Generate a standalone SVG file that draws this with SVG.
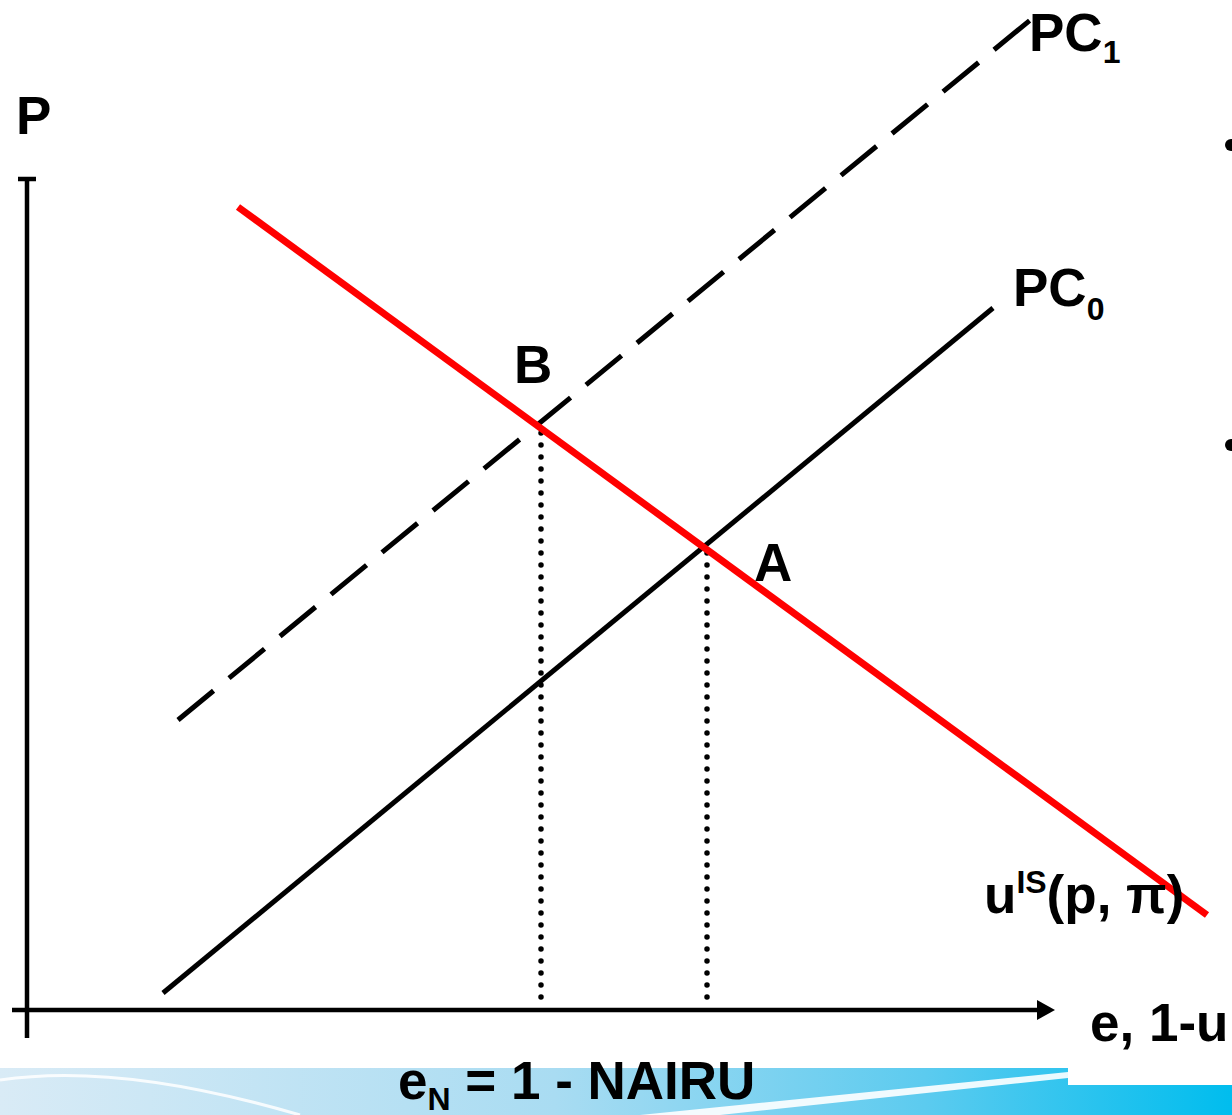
<svg xmlns="http://www.w3.org/2000/svg" width="1232" height="1115" viewBox="0 0 1232 1115">
<defs>
<style>
.t{font-family:"Liberation Sans",Arial,sans-serif;font-weight:bold;fill:#000}
.big{font-size:53px}
.sub{font-size:32px}
.ax{stroke:#000;stroke-width:4.5;fill:none}
.pc{stroke:#000;stroke-width:5;fill:none}
.dot{stroke:#000;stroke-width:5.5;stroke-linecap:round;stroke-dasharray:0 12;fill:none}
</style>
<linearGradient id="band" x1="0" y1="0" x2="1" y2="0">
<stop offset="0" stop-color="#d9ebf6"/>
<stop offset="0.45" stop-color="#a9dcf2"/>
<stop offset="0.75" stop-color="#5ccbef"/>
<stop offset="1" stop-color="#00bdee"/>
</linearGradient>
</defs>
<rect width="1232" height="1115" fill="#fff"/>
<g id="background-band">
<rect x="0" y="1068" width="1232" height="47" fill="url(#band)"/>
<path d="M0,1080 Q120,1062 300,1115" stroke="#fff" stroke-width="3" fill="none" opacity="0.85"/>
<path d="M640,1115 L1068,1072 L1068,1078 L720,1115 Z" fill="#fff" opacity="0.9"/>
<rect x="1068" y="1060" width="164" height="25" fill="#fff"/>
</g>
<g id="connectors">
<line id="y-axis" class="ax" x1="27" y1="178" x2="27" y2="1038"/>
<line class="ax" x1="18" y1="179" x2="36" y2="179" stroke-width="3"/>
<line id="x-axis" class="ax" x1="12" y1="1010" x2="1040" y2="1010"/>
<polygon points="1037,1000 1055,1010 1037,1020" fill="#000"/>
<line id="pc0" class="pc" x1="163" y1="993" x2="993" y2="308"/>
<line id="pc1" class="pc" x1="178" y1="720" x2="1040" y2="12" stroke-dasharray="46 20"/>
<line id="drop-b" class="dot" x1="541" y1="433" x2="541" y2="1003"/>
<line id="drop-a" class="dot" x1="707" y1="553" x2="707" y2="1003"/>
<line id="uis" x1="238" y1="207" x2="1207" y2="915" stroke="#f00" stroke-width="7"/>
</g>
<g id="label-p"><text class="t big" x="16" y="134">P</text></g>
<g id="label-pc1"><text class="t big" x="1029" y="51">PC<tspan class="sub" y="63">1</tspan></text></g>
<g id="label-pc0"><text class="t big" x="1013" y="306">PC<tspan class="sub" y="320">0</tspan></text></g>
<g id="label-b"><text class="t big" x="514" y="383">B</text></g>
<g id="label-a"><text class="t big" x="754" y="581">A</text></g>
<g id="label-uis"><text class="t big" x="984" y="913">u<tspan class="sub" y="893">IS</tspan><tspan y="913">(p, π)</tspan></text></g>
<g id="label-x"><text class="t big" x="1090" y="1041">e, 1-u</text></g>
<g id="label-en"><text class="t big" x="398" y="1099">e<tspan class="sub" y="1110">N</tspan><tspan y="1099"> = 1 - NAIRU</tspan></text></g>
<g id="bullets">
<circle cx="1231" cy="145" r="6" fill="#000"/>
<circle cx="1231" cy="445" r="6" fill="#000"/>
</g>
</svg>
